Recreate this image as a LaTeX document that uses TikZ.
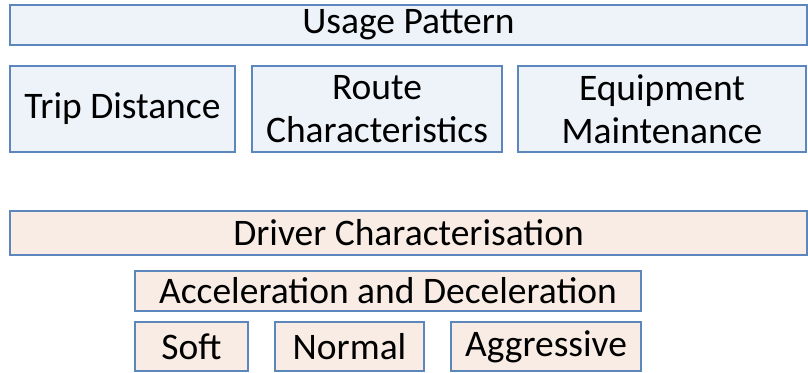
\documentclass[tikz,border=0pt]{standalone}
\usepackage{fontspec}
\setmainfont{Carlito}
\definecolor{bluefill}{HTML}{EEF3FA}
\definecolor{peachfill}{HTML}{F8ECE4}
\definecolor{boxline}{HTML}{5B87BD}
\begin{document}
\begin{tikzpicture}[x=1pt,y=-1pt,
  bx/.style={draw=boxline,line width=1.2pt,inner sep=0pt,outer sep=0pt,anchor=north west,align=center,
    font=\fontsize{37.5}{43}\selectfont},
  blu/.style={bx,fill=bluefill},
  pch/.style={bx,fill=peachfill}]
\useasboundingbox (0,0) rectangle (808,372);
\node[blu,minimum width=797pt,minimum height=40pt] (usage) at (10,5) {Usage Pattern};
\node[blu,minimum width=225pt,minimum height=86pt] (trip) at (10,66) {Trip Distance};
\node[blu,minimum width=250pt,minimum height=86pt] (route) at (252,66) {Route\\Characteristics};
\node[blu,minimum width=288pt,minimum height=86pt] (equip) at (518,66) {Equipment\\Maintenance};
\node[pch,minimum width=797pt,minimum height=44pt] (driver) at (10,211) {Driver Characterisation};
\node[pch,minimum width=506pt,minimum height=40pt] (accel) at (135,271) {Acceleration and Deceleration};
\node[pch,minimum width=113pt,minimum height=49pt] (soft) at (135,322) {Soft};
\node[pch,minimum width=149pt,minimum height=49pt] (normal) at (275,322) {Normal};
\node[pch,minimum width=190pt,minimum height=49pt] (aggr) at (451,322) {Aggressive};
\end{tikzpicture}
\end{document}
